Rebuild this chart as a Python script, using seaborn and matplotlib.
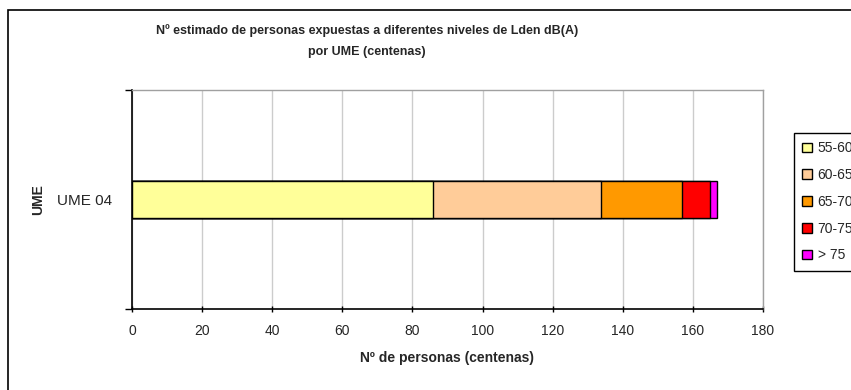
import matplotlib
matplotlib.use("Agg")
import matplotlib.pyplot as plt
import seaborn as sns
import pandas as pd
import numpy as np
from matplotlib.patches import Patch, Rectangle

# ---- data ----
categories = ["UME 04"]
levels = ["55-60", "60-65", "65-70", "70-75", "> 75"]
v_55_60 = [86.0]
v_60_65 = [47.9]
v_65_70 = [22.9]
v_70_75 = [8.0]
v_gt75 = [2.0]
colors = ["#FFFF99", "#FFCC99", "#FF9900", "#FF0000", "#FF00FF"]
xticks = [0, 20, 40, 60, 80, 100, 120, 140, 160, 180]

series = [v_55_60, v_60_65, v_65_70, v_70_75, v_gt75]

sns.set_theme(style="white")
plt.rcParams["font.family"] = ["Liberation Sans", "DejaVu Sans"]

fig = plt.figure(figsize=(8.51, 3.90), dpi=100)
ax = fig.add_axes([132 / 851, 1 - 309 / 390, 631 / 851, 219.5 / 390])

# cumulative sums per layer
cum = np.cumsum(np.array(series), axis=0)
for i in range(len(levels) - 1, -1, -1):
    df = pd.DataFrame({"cat": categories, "val": cum[i]})
    sns.barplot(data=df, x="val", y="cat", orient="h", color=colors[i],
                saturation=1, width=0.17, edgecolor="black", linewidth=1.0,
                ax=ax, zorder=3)

ax.set_xlim(0, 180)
ax.set_ylim(0.5, -0.5)
ax.set_xticks(xticks)
ax.set_xticklabels([str(t) for t in xticks], fontsize=10)
ax.set_yticks([0])
ax.set_yticklabels(categories, fontsize=11)
ax.set_yticks([-0.5, 0.5], minor=True)
ax.tick_params(axis="y", which="major", left=False, length=0, pad=14)
ax.tick_params(axis="y", which="minor", left=True, length=5, width=1,
               color="black", direction="out")
ax.tick_params(axis="x", which="major", bottom=True, length=5, width=1,
               color="black", direction="inout", pad=8)

ax.grid(axis="x", color="#cccccc", linewidth=1, zorder=0)
ax.grid(axis="y", visible=False)
ax.set_axisbelow(True)

for s in ["top", "right"]:
    ax.spines[s].set_color("#a0a0a0")
    ax.spines[s].set_linewidth(1)
for s in ["left", "bottom"]:
    ax.spines[s].set_color("black")
    ax.spines[s].set_linewidth(1.2)

ax.set_xlabel("Nº de personas (centenas)", fontsize=10, fontweight="bold", labelpad=10)
ax.set_ylabel("UME", fontsize=10, fontweight="bold", labelpad=9)

fig.text(367 / 851, 1 - 31 / 390,
         "Nº estimado de personas expuestas a diferentes niveles de Lden dB(A)",
         ha="center", va="center", fontsize=9, fontweight="bold")
fig.text(367 / 851, 1 - 52 / 390, "por UME (centenas)",
         ha="center", va="center", fontsize=9, fontweight="bold")

handles = [Patch(facecolor=c, edgecolor="black", linewidth=1) for c in colors]
leg = fig.legend(handles, levels, loc="upper left",
                 bbox_to_anchor=(794 / 851, 1 - 133 / 390),
                 fontsize=10, frameon=True, fancybox=False,
                 handlelength=0.7, handleheight=0.7, handletextpad=0.4,
                 labelspacing=0.92, borderpad=0.6, borderaxespad=0)
leg.get_frame().set_edgecolor("black")
leg.get_frame().set_linewidth(1)
leg.get_frame().set_alpha(1)

# outer chart border (extends beyond right/bottom edges)
fig.patches.append(Rectangle((8 / 851, -0.2), 1.2, 1 - 10 / 390 + 0.2,
                             transform=fig.transFigure, fill=False,
                             edgecolor="black", linewidth=1.2))

fig.savefig("out.png", dpi=100)
